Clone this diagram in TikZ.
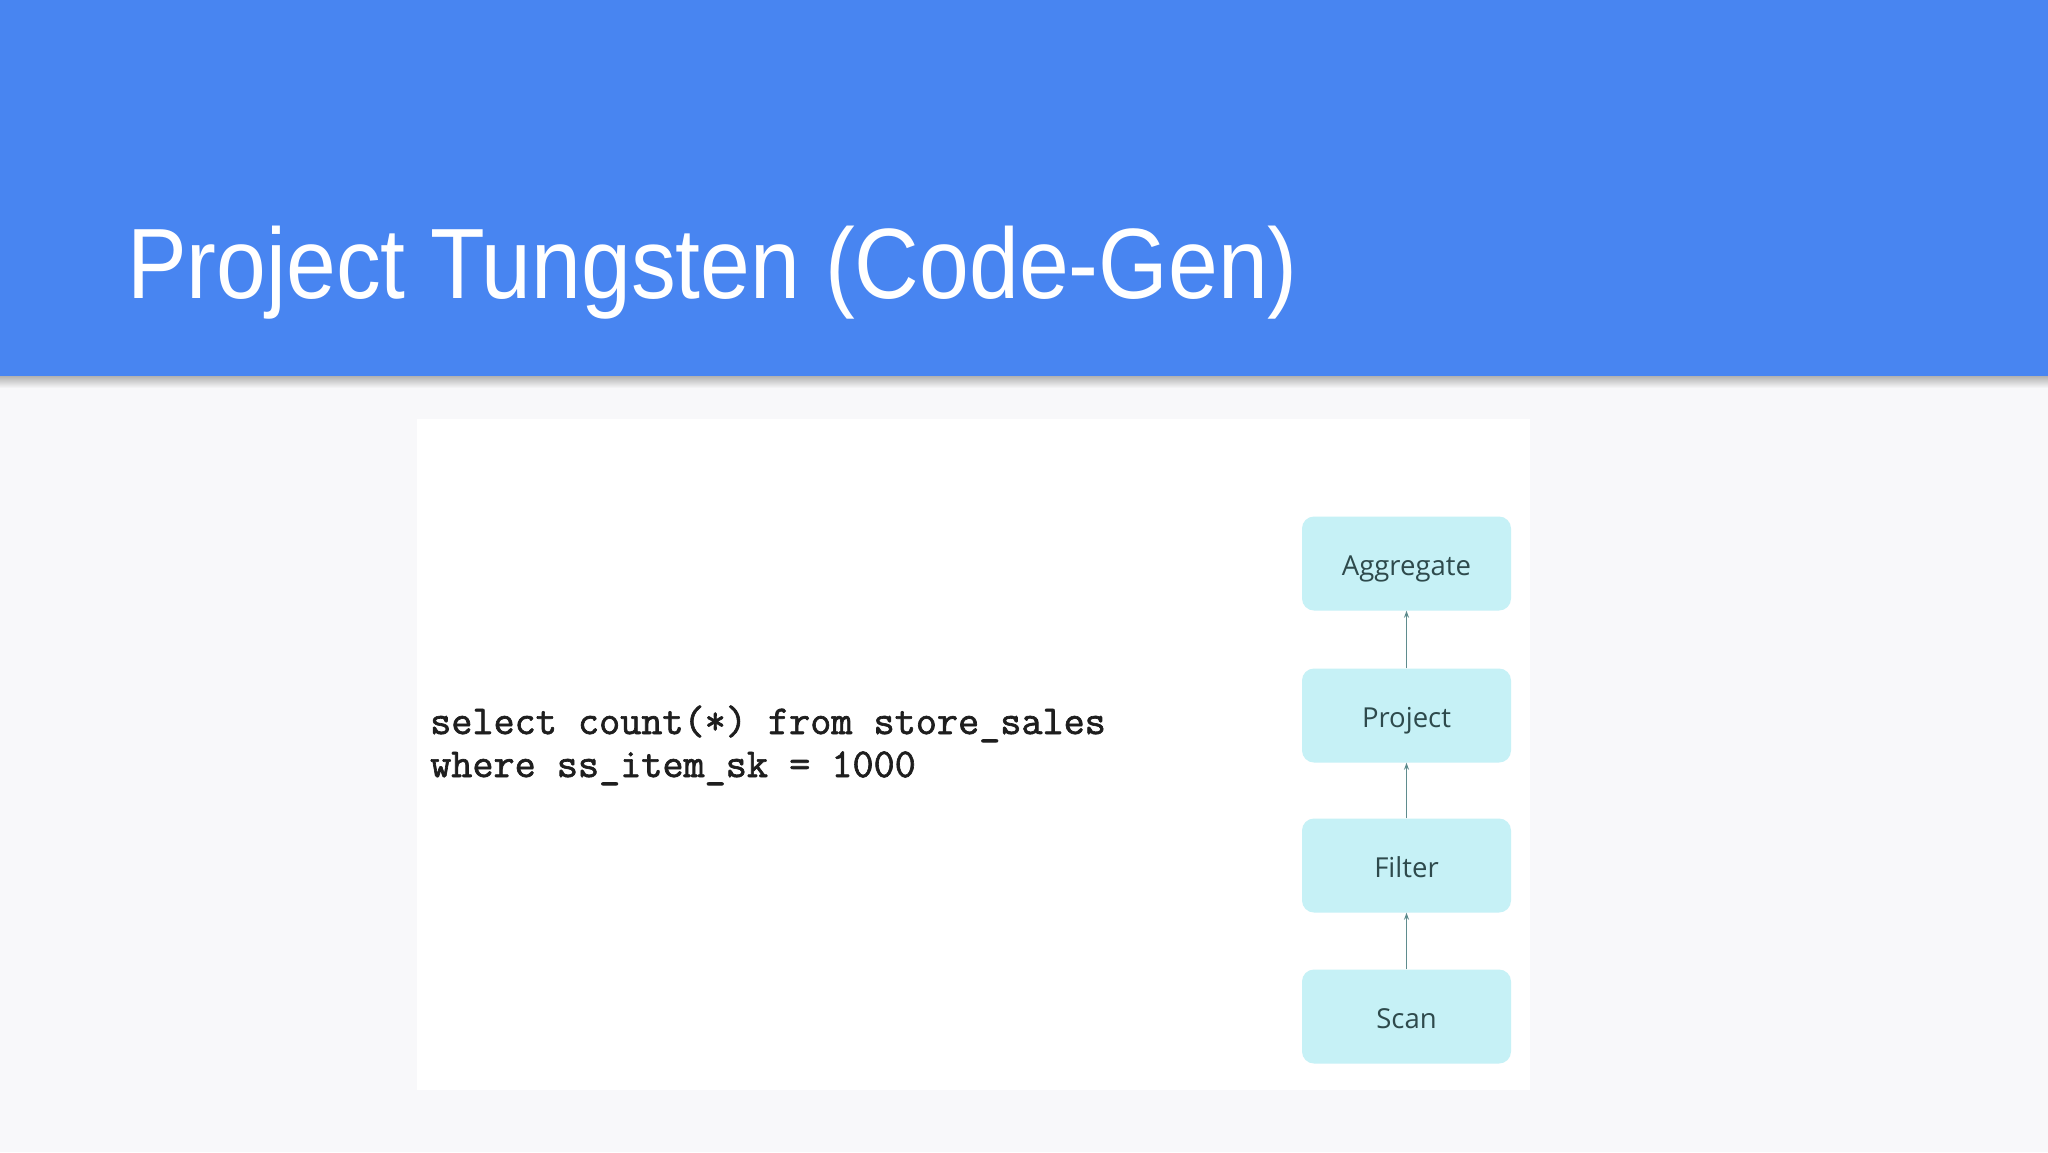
\documentclass[tikz,border=0pt]{standalone}
\usepackage{fontspec}
\setmainfont{Liberation Sans}
\newfontfamily\boxfont{Open Sans}
\newfontfamily\codefont[FakeBold=1.6]{Latin Modern Mono}
\usetikzlibrary{arrows.meta}
\definecolor{headblue}{HTML}{4885F1}
\definecolor{slidebg}{HTML}{F8F8FA}
\definecolor{boxfill}{HTML}{C6F1F6}
\definecolor{boxtext}{HTML}{2E4A4C}
\definecolor{arrowcol}{HTML}{5F8C8E}
\definecolor{codecol}{HTML}{1E1E1E}
\tikzset{
  opbox/.style={draw=none, fill=boxfill, rounded corners=12pt, minimum width=209pt, minimum height=94pt, inner sep=0pt, text height=24pt, text depth=0pt, font=\boxfont\fontsize{27.5}{32}\selectfont, text=boxtext},
  flow/.style={draw=arrowcol, line width=1.7pt, -{Stealth[length=7pt,width=5pt]}},
  codeline/.style={anchor=base west, inner sep=0pt, font=\codefont\fontsize{41}{43}\selectfont, text=codecol}
}
\begin{document}
\begin{tikzpicture}[x=1pt,y=-1pt]
\useasboundingbox (0,0) rectangle (2048,1152);
\fill[slidebg] (0,0) rectangle (2048,1152);
\shade[top color=black!30, bottom color=slidebg] (0,376) rectangle (2048,388);
\fill[headblue] (0,0) rectangle (2048,376);
\node[anchor=base west, inner sep=0pt, text=white, font=\fontsize{100}{110}\selectfont, xscale=0.895] (title) at (127,298) {Project Tungsten (Code-Gen)};
\fill[white] (417,419) rectangle (1530,1090);
\node[codeline] (code1) at (430,734) {select count(*) from store\_sales};
\node[codeline] (code2) at (430,777) {where ss\_item\_sk = 1000};
\node[opbox] (agg) at (1406.5,563.5) {Aggregate};
\node[opbox] (proj) at (1406.5,715.5) {Project};
\node[opbox] (filt) at (1406.5,865.5) {Filter};
\node[opbox] (scan) at (1406.5,1016.5) {Scan};
\draw[flow] (proj) -- (agg);
\draw[flow] (filt) -- (proj);
\draw[flow] (scan) -- (filt);
\end{tikzpicture}
\end{document}
